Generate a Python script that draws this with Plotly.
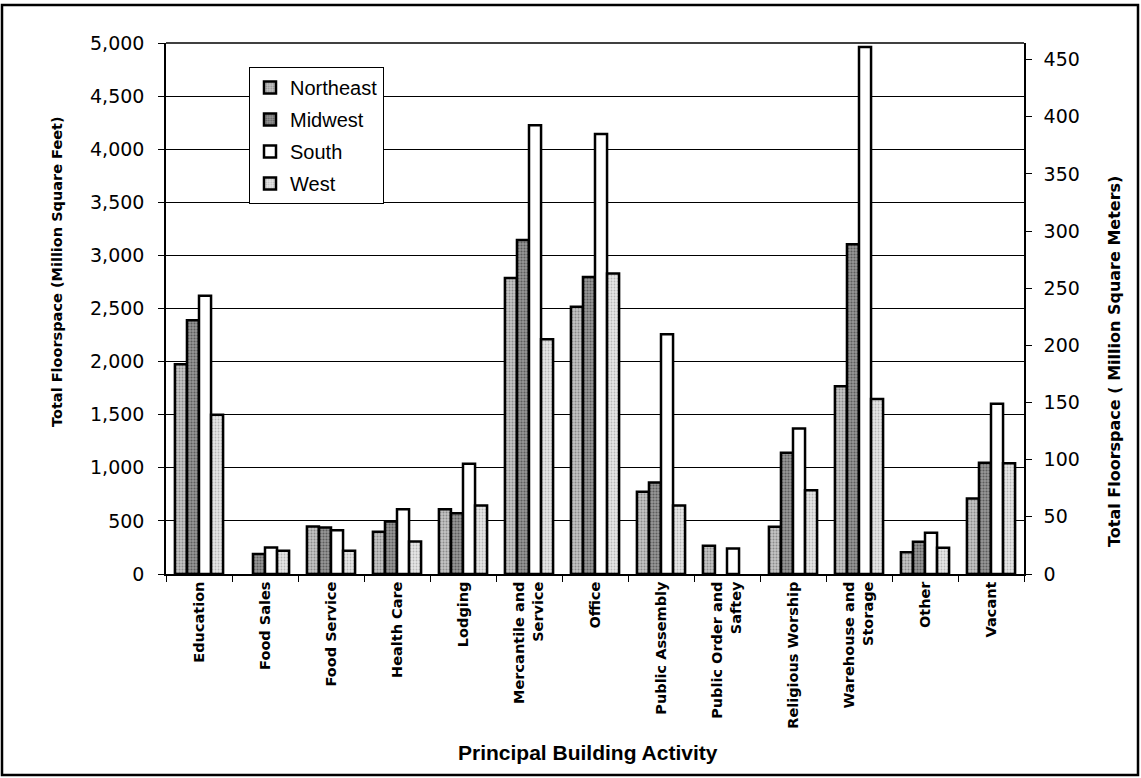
import plotly.graph_objects as go

categories = ["Education", "Food Sales", "Food Service", "Health Care", "Lodging",
              "Mercantile and<br>Service", "Office", "Public Assembly",
              "Public Order and<br>Saftey", "Religious Worship",
              "Warehouse and<br>Storage", "Other", "Vacant"]

northeast = [1975, None, 447, 397, 610, 2787, 2516, 774, 266, 444, 1767, 204, 711]
midwest   = [2390, 188, 438, 494, 571, 3145, 2797, 861, None, 1141, 3104, 304, 1048]
south     = [2619, 250, 413, 609, 1039, 4226, 4142, 2258, 241, 1370, 4963, 389, 1604]
west      = [1500, 219, 219, 306, 645, 2210, 2829, 645, None, 789, 1648, 248, 1044]

series_names = ["Northeast", "Midwest", "South", "West"]
series_values = [northeast, midwest, south, west]
left_ticks = [0, 500, 1000, 1500, 2000, 2500, 3000, 3500, 4000, 4500, 5000]
right_ticks = [0, 50, 100, 150, 200, 250, 300, 350, 400, 450]
SQFT_TO_SQM = 0.092903

fills = [
    dict(color="#b0b0b0", pattern=dict(shape=".", fgcolor="#505050", bgcolor="#c4c4c4", size=3, solidity=0.35)),
    dict(color="#787878", pattern=dict(shape=".", fgcolor="#202020", bgcolor="#989898", size=3, solidity=0.4)),
    dict(color="#ffffff", pattern=None),
    dict(color="#dadada", pattern=dict(shape=".", fgcolor="#858585", bgcolor="#e6e6e6", size=3, solidity=0.3)),
]

SANS = "Arial, 'Liberation Sans', sans-serif"
WIDE = "'DejaVu Sans', Verdana, sans-serif"

fig = go.Figure()
for name, vals, f in zip(series_names, series_values, fills):
    marker = dict(color=f["color"], line=dict(color="black", width=2.5))
    if f["pattern"] is not None:
        marker["pattern"] = f["pattern"]
    fig.add_trace(go.Bar(name=name, x=categories, y=vals, marker=marker,
                         legendgroup=name))

# helper trace to activate the secondary (metric) axis
fig.add_trace(go.Scatter(x=[categories[0]], y=[0], yaxis="y2", mode="markers",
                         marker=dict(opacity=0, size=1), showlegend=False, hoverinfo="skip"))

W, H = 1141, 778
L, R, T, B = 166, 117, 43, 204
pw, ph = W - L - R, H - T - B

def px(x):
    return (x - L) / pw

def py(y):
    return (H - B - y) / ph

fig.update_layout(
    width=W, height=H,
    margin=dict(l=L, r=R, t=T, b=B, autoexpand=False),
    paper_bgcolor="white", plot_bgcolor="white",
    barmode="group", bargap=0.27, bargroupgap=0.0,
    font=dict(family=SANS, color="black"),
    showlegend=True,
    legend=dict(x=px(249), y=py(67), xanchor="left", yanchor="top",
                bgcolor="white", bordercolor="black", borderwidth=1,
                font=dict(size=20, family=SANS), tracegroupgap=3,
                itemwidth=30),
    xaxis=dict(
        range=[-0.5, len(categories) - 0.5],
        tickangle=-90, tickfont=dict(size=14.5, family=WIDE, weight="bold", color="black"),
        showline=True, linecolor="black", linewidth=1.5,
        ticks="outside", ticklen=6, tickcolor="black", tickson="boundaries",
        showgrid=False, automargin=False,
    ),
    yaxis=dict(
        range=[0, 5000], tickvals=left_ticks, tickformat=",d",
        tickfont=dict(size=19, family=WIDE),
        showgrid=True, gridcolor="black", gridwidth=1,
        showline=True, linecolor="black", linewidth=1.5,
        ticks="outside", ticklen=6, tickcolor="black", ticklabelstandoff=10,
        zeroline=False, automargin=False,
    ),
    yaxis2=dict(
        overlaying="y", side="right",
        range=[0, 5000 * SQFT_TO_SQM], tickvals=right_ticks,
        tickfont=dict(size=19, family=WIDE),
        showgrid=False, zeroline=False,
        showline=True, linecolor="black", linewidth=1.5,
        ticks="outside", ticklen=6, tickcolor="black", ticklabelstandoff=8,
        automargin=False,
    ),
    annotations=[
        dict(text="<b>Principal Building Activity</b>", xref="paper", yref="paper",
             x=px(588), y=py(752), showarrow=False, font=dict(size=21, family=SANS),
             xanchor="center", yanchor="middle"),
        dict(text="<b>Total Floorspace (Million Square Feet)</b>", xref="paper", yref="paper",
             x=px(57), y=py(272), showarrow=False, textangle=-90,
             font=dict(size=14.5, family=WIDE), xanchor="center", yanchor="middle"),
        dict(text="<b>Total Floorspace ( Million Square Meters)</b>", xref="paper", yref="paper",
             x=px(1114), y=py(362), showarrow=False, textangle=-90,
             font=dict(size=16, family=WIDE), xanchor="center", yanchor="middle"),
    ],
    shapes=[
        dict(type="line", xref="paper", yref="paper", x0=0, x1=1, y0=1, y1=1,
             line=dict(color="black", width=1.5)),
        dict(type="rect", xref="paper", yref="paper",
             x0=px(2), x1=px(1138), y0=py(775), y1=py(5),
             line=dict(color="black", width=2.5), fillcolor="rgba(0,0,0,0)", layer="below"),
    ],
)

fig.write_html("out.html", config={"displayModeBar": False},
               post_script="document.body.style.margin='0';document.body.style.overflow='hidden';")
